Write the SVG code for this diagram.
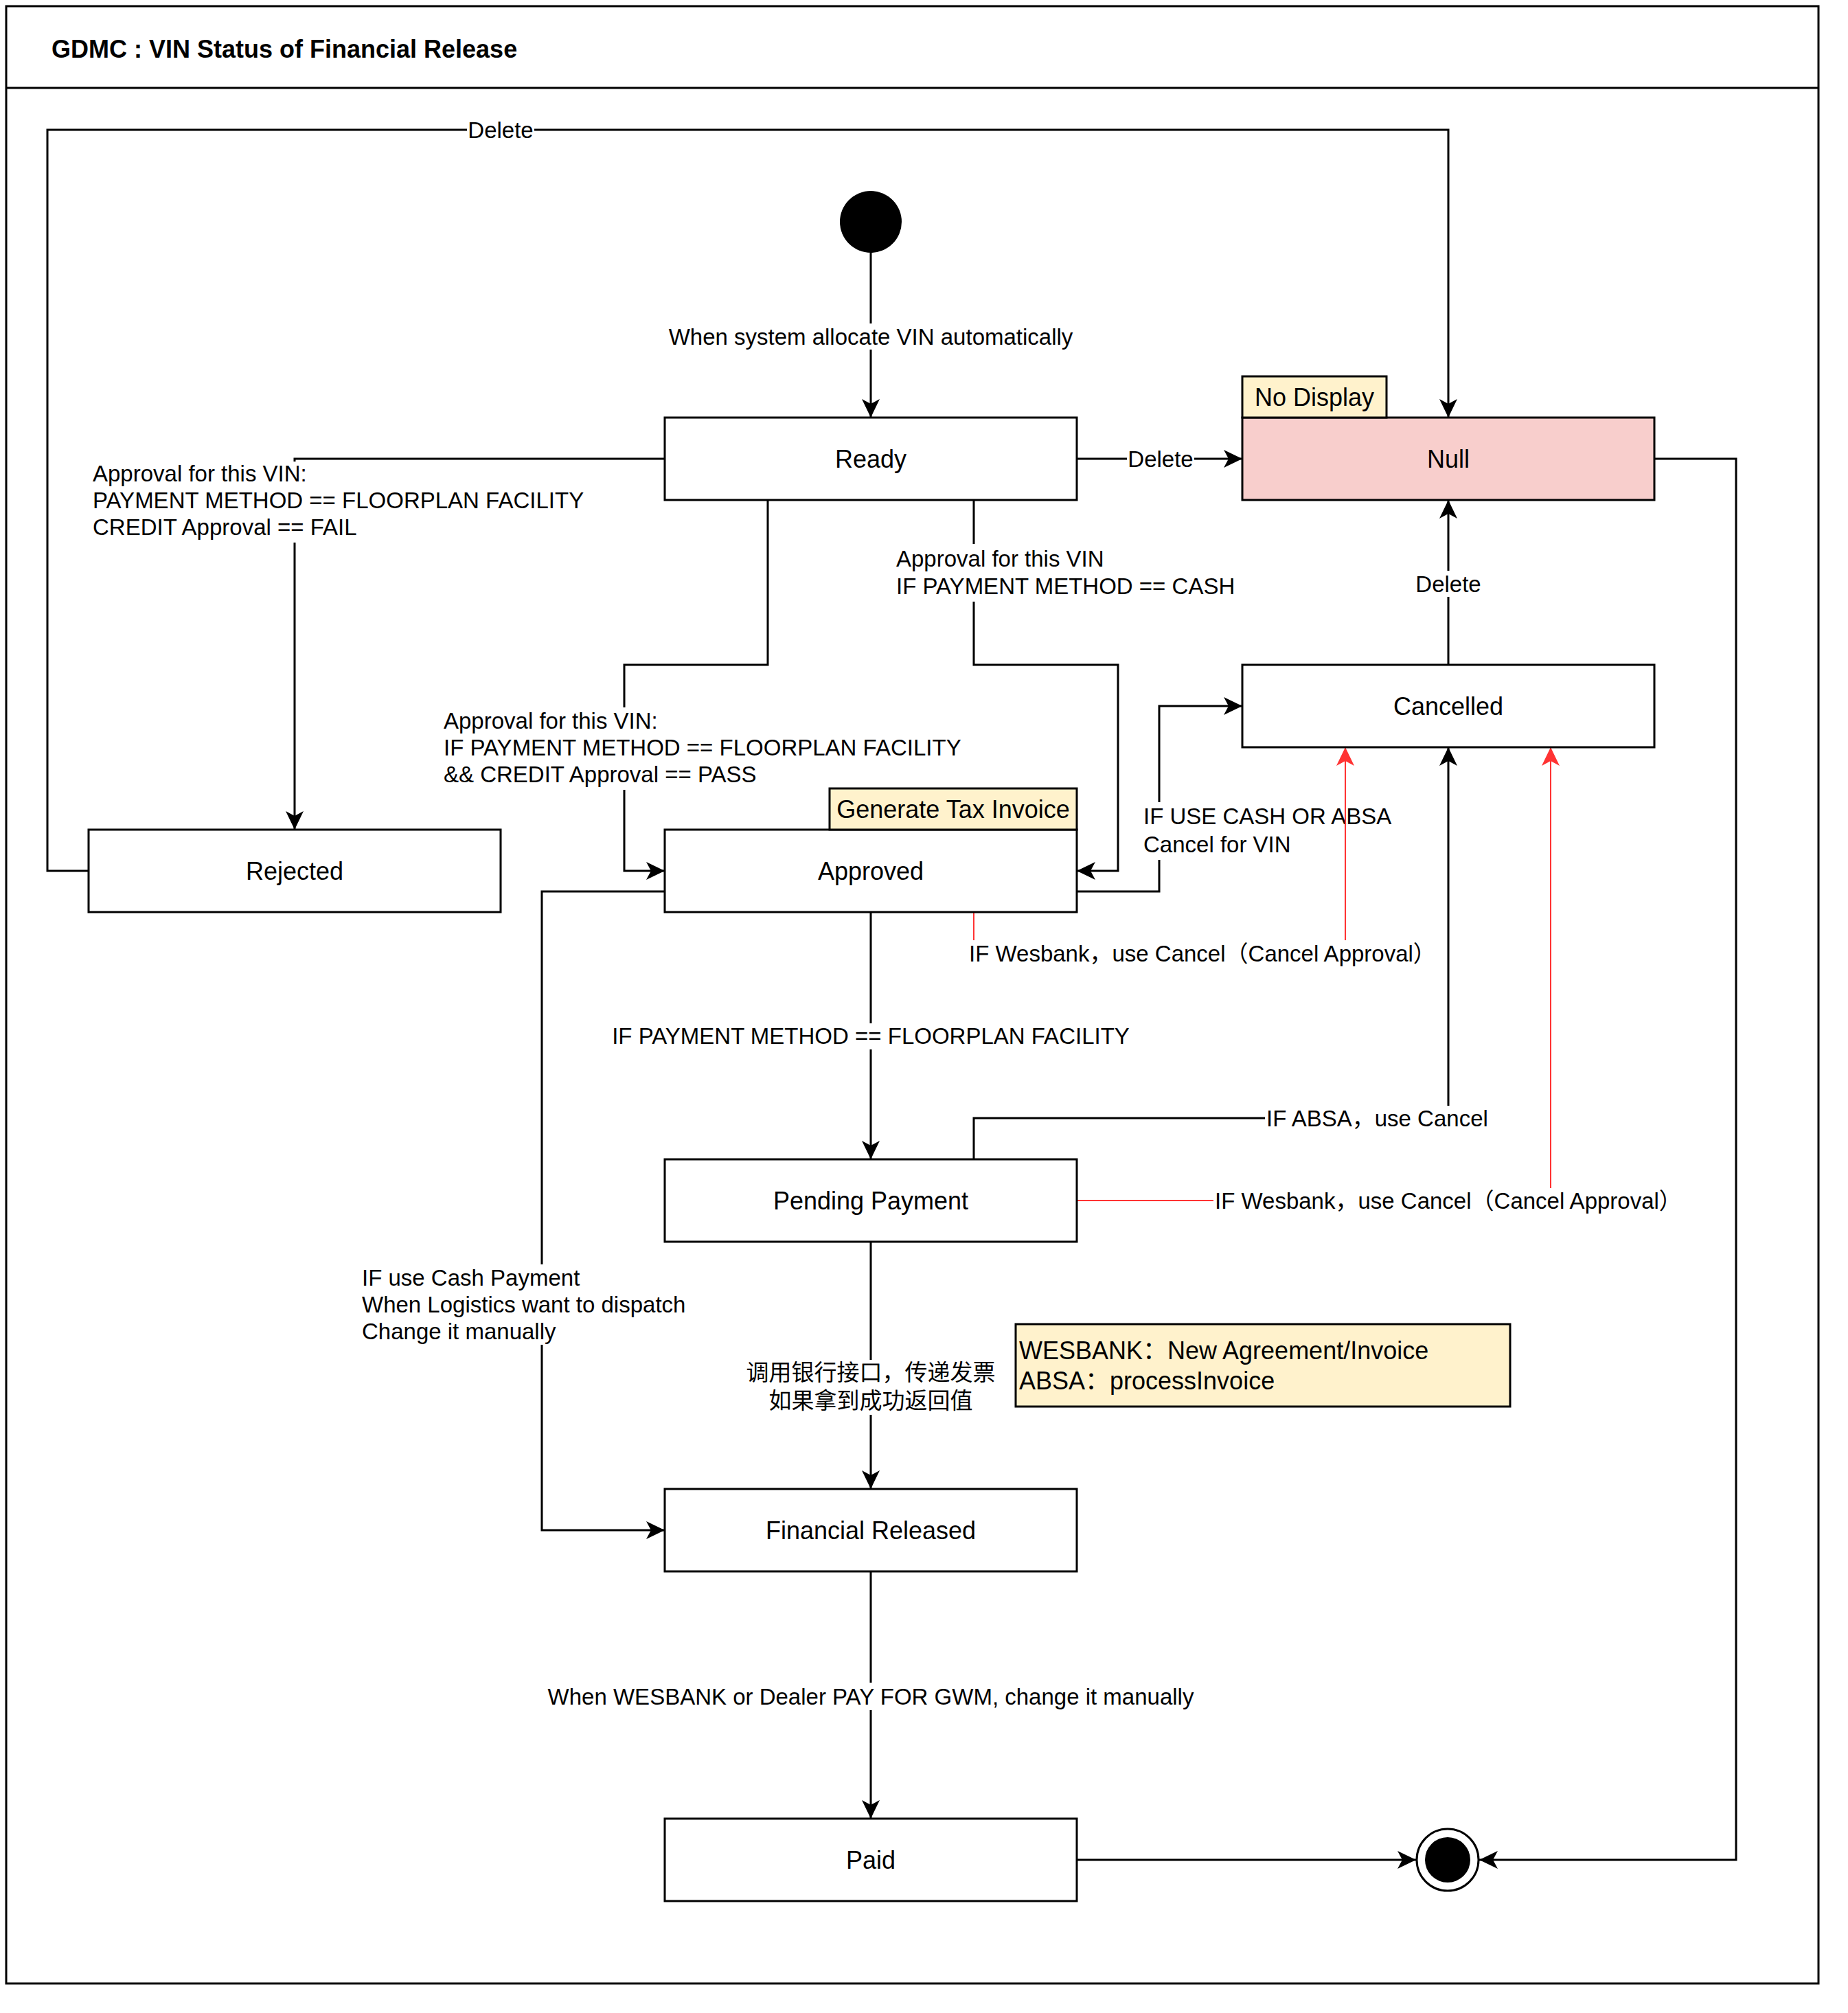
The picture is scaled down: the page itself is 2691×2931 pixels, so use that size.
<svg xmlns="http://www.w3.org/2000/svg" width="2691" height="2931" viewBox="0 0 2691 2931">
<style>
text{font-family:"Liberation Sans",Arial,"Noto Sans CJK SC",sans-serif;font-size:36px;fill:#000}
text.l{font-size:33px}
.c{text-anchor:middle}
.box{fill:#fff;stroke:#000;stroke-width:3}
.note{fill:#fff2cc;stroke:#000;stroke-width:3}
.e{fill:none;stroke:#000;stroke-width:3}
.r{fill:none;stroke:#ff3333;stroke-width:2}
.bg{fill:#fff}
</style>
<defs>
<marker id="a" viewBox="-29 -15 31 30" markerWidth="31" markerHeight="30" refX="0" refY="0" orient="auto" markerUnits="userSpaceOnUse"><path d="M0,0 L-27,-13 L-20,0 L-27,13 Z" fill="#000"/></marker>
<marker id="ar" viewBox="-29 -15 31 30" markerWidth="31" markerHeight="30" refX="0" refY="0" orient="auto" markerUnits="userSpaceOnUse"><path d="M0,0 L-27,-13 L-20,0 L-27,13 Z" fill="#ff3333"/></marker>
</defs>
<rect width="2691" height="2931" fill="#fff"/>
<g id="frame">
<rect x="9" y="9" width="2639" height="2879" fill="none" stroke="#000" stroke-width="3"/>
<line x1="9" y1="128" x2="2648" y2="128" stroke="#000" stroke-width="3"/>
<text x="75" y="84" style="font-weight:bold">GDMC : VIN Status of Financial Release</text>
</g>
<g id="connectors">
<path class="e" d="M1268,368 V608" marker-end="url(#a)"/>
<rect class="bg" x="972" y="471" width="592" height="38"/>
<text class="l c" x="1268" y="502">When system allocate VIN automatically</text>
<path class="e" d="M1568,668 H1809" marker-end="url(#a)"/>
<rect class="bg" x="1641" y="649" width="98" height="38"/>
<text class="l c" x="1690" y="680">Delete</text>
<path class="e" d="M129,1268 H69 V189 H2109 V608" marker-end="url(#a)"/>
<rect class="bg" x="680" y="170" width="98" height="38"/>
<text class="l c" x="729" y="201">Delete</text>
<path class="e" d="M968,668 H429 V1208" marker-end="url(#a)"/>
<rect class="bg" x="133" y="672" width="719" height="118"/>
<text class="l" x="135" y="701">Approval for this VIN:</text>
<text class="l" x="135" y="740">PAYMENT METHOD == FLOORPLAN FACILITY</text>
<text class="l" x="135" y="779">CREDIT Approval == FAIL</text>
<path class="e" d="M1118,728 V968 H909 V1268 H968" marker-end="url(#a)"/>
<rect class="bg" x="644" y="1030" width="756" height="120"/>
<text class="l" x="646" y="1061">Approval for this VIN:</text>
<text class="l" x="646" y="1100">IF PAYMENT METHOD == FLOORPLAN FACILITY</text>
<text class="l" x="646" y="1139">&amp;&amp; CREDIT Approval == PASS</text>
<path class="e" d="M1418,728 V968 H1628 V1268 H1568" marker-end="url(#a)"/>
<rect class="bg" x="1303" y="792" width="497" height="84"/>
<text class="l" x="1305" y="825">Approval for this VIN</text>
<text class="l" x="1305" y="865">IF PAYMENT METHOD == CASH</text>
<path class="e" d="M1568,1298 H1688 V1028 H1809" marker-end="url(#a)"/>
<rect class="bg" x="1663" y="1168" width="367" height="84"/>
<text class="l" x="1665" y="1200">IF USE CASH OR ABSA</text>
<text class="l" x="1665" y="1241">Cancel for VIN</text>
<path class="e" d="M1268,1328 V1688" marker-end="url(#a)"/>
<rect class="bg" x="891" y="1490" width="758" height="38"/>
<text class="l c" x="1268" y="1520">IF PAYMENT METHOD == FLOORPLAN FACILITY</text>
<path class="e" d="M968,1298 H789 V2228 H968" marker-end="url(#a)"/>
<rect class="bg" x="525" y="1841" width="475" height="117"/>
<text class="l" x="527" y="1872">IF use Cash Payment</text>
<text class="l" x="527" y="1911">When Logistics want to dispatch</text>
<text class="l" x="527" y="1950">Change it manually</text>
<path class="e" d="M1418,1688 V1628 H2109 V1088" marker-end="url(#a)"/>
<rect class="bg" x="1842" y="1610" width="326" height="37"/>
<text class="l" x="1844" y="1640">IF ABSA，use Cancel</text>
<path class="e" d="M1268,1808 V2168" marker-end="url(#a)"/>
<rect class="bg" x="1088" y="1980" width="366" height="80"/>
<text class="l c" x="1268" y="2010">调用银行接口，传递发票</text>
<text class="l c" x="1268" y="2051">如果拿到成功返回值</text>
<path class="e" d="M1268,2288 V2648" marker-end="url(#a)"/>
<rect class="bg" x="798" y="2450" width="944" height="40"/>
<text class="l c" x="1268" y="2482">When WESBANK or Dealer PAY FOR GWM, change it manually</text>
<path class="e" d="M1568,2708 H2062" marker-end="url(#a)"/>
<path class="e" d="M2409,668 H2528 V2708 H2154" marker-end="url(#a)"/>
<path class="e" d="M2109,968 V728" marker-end="url(#a)"/>
<rect class="bg" x="2060" y="831" width="98" height="38"/>
<text class="l c" x="2109" y="862">Delete</text>
<path class="r" d="M1418,1328 V1388 H1959 V1088" marker-end="url(#ar)"/>
<rect class="bg" x="1409" y="1369" width="663" height="39"/>
<text class="l" x="1411" y="1400">IF Wesbank，use Cancel（Cancel Approval）</text>
<path class="r" d="M1568,1748 H2258 V1088" marker-end="url(#ar)"/>
<rect class="bg" x="1767" y="1730" width="664" height="37"/>
<text class="l" x="1769" y="1760">IF Wesbank，use Cancel（Cancel Approval）</text>
</g>
<g id="start"><circle cx="1268" cy="323" r="45" fill="#000"/></g>
<g id="ready"><rect class="box" x="968" y="608" width="600" height="120"/><text class="c" x="1268" y="681">Ready</text></g>
<g id="null"><rect x="1809" y="608" width="600" height="120" fill="#f8cecc" stroke="#000" stroke-width="3"/><text class="c" x="2109" y="681">Null</text></g>
<g id="nodisplay"><rect class="note" x="1809" y="548" width="210" height="60"/><text class="c" x="1914" y="591">No Display</text></g>
<g id="cancelled"><rect class="box" x="1809" y="968" width="600" height="120"/><text class="c" x="2109" y="1041">Cancelled</text></g>
<g id="rejected"><rect class="box" x="129" y="1208" width="600" height="120"/><text class="c" x="429" y="1281">Rejected</text></g>
<g id="approved"><rect class="box" x="968" y="1208" width="600" height="120"/><text class="c" x="1268" y="1281">Approved</text></g>
<g id="taxinvoice"><rect class="note" x="1208" y="1148" width="360" height="60"/><text class="c" x="1388" y="1191">Generate Tax Invoice</text></g>
<g id="pending"><rect class="box" x="968" y="1688" width="600" height="120"/><text class="c" x="1268" y="1761">Pending Payment</text></g>
<g id="banknote"><rect class="note" x="1479" y="1928" width="720" height="120"/><text x="1484" y="1979">WESBANK：New Agreement/Invoice</text><text x="1484" y="2023">ABSA：processInvoice</text></g>
<g id="released"><rect class="box" x="968" y="2168" width="600" height="120"/><text class="c" x="1268" y="2241">Financial Released</text></g>
<g id="paid"><rect class="box" x="968" y="2648" width="600" height="120"/><text class="c" x="1268" y="2721">Paid</text></g>
<g id="end"><circle cx="2108" cy="2708" r="45" fill="#fff" stroke="#000" stroke-width="3"/><circle cx="2108" cy="2708" r="33" fill="#000"/></g>
</svg>
